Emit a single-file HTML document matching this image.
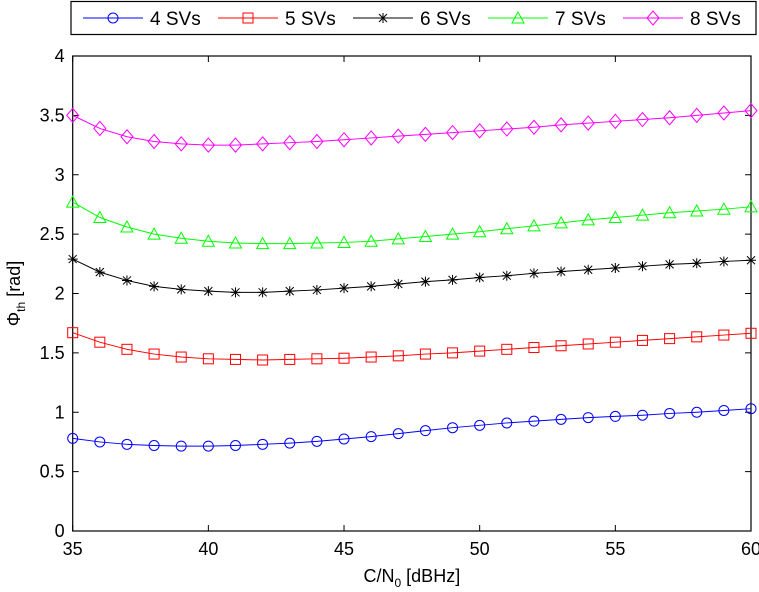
<!DOCTYPE html>
<html><head><meta charset="utf-8"><style>
body{margin:0;background:#fff}
svg{display:block;font-family:"Liberation Sans",Arial,sans-serif}
</style></head><body>
<svg id="c" width="759" height="592"></svg>
<script>
const xs=[35,36,37,38,39,40,41,42,43,44,45,46,47,48,49,50,51,52,53,54,55,56,57,58,59,60];
const s4=[0.78,0.75,0.73,0.72,0.715,0.715,0.72,0.73,0.74,0.755,0.775,0.795,0.82,0.845,0.87,0.89,0.91,0.925,0.94,0.955,0.965,0.975,0.99,1.0,1.015,1.03];
const s5=[1.67,1.59,1.53,1.49,1.465,1.45,1.445,1.44,1.445,1.45,1.455,1.465,1.475,1.49,1.5,1.515,1.53,1.545,1.56,1.575,1.59,1.605,1.62,1.635,1.65,1.665];
const s6=[2.29,2.18,2.11,2.06,2.035,2.02,2.01,2.01,2.02,2.03,2.045,2.06,2.08,2.10,2.115,2.135,2.15,2.17,2.185,2.2,2.215,2.23,2.245,2.255,2.27,2.28];
const s7=[2.77,2.64,2.56,2.5,2.465,2.44,2.425,2.42,2.42,2.425,2.43,2.44,2.46,2.48,2.5,2.52,2.545,2.57,2.595,2.62,2.64,2.66,2.68,2.695,2.71,2.73];
const s8=[3.5,3.39,3.32,3.28,3.26,3.25,3.25,3.26,3.27,3.28,3.295,3.31,3.325,3.34,3.355,3.37,3.385,3.40,3.42,3.435,3.45,3.465,3.48,3.5,3.52,3.54];
const xTicks=[35,40,45,50,55,60];
const yTicks=[0,0.5,1,1.5,2,2.5,3,3.5,4];
const names=["4 SVs","5 SVs","6 SVs","7 SVs","8 SVs"];
const series=[s4,s5,s6,s7,s8];
const colors=["#0000ff","#ff0000","#000000","#00ff00","#ff00ff"];
const marks=["circle","square","star","tri","diamond"];

const L=72.7,R=751,T=56,B=531;
const X=v=>L+(v-35)/25*(R-L);
const Y=v=>B-v/4*(B-T);
const svg=document.getElementById('c');
const NS="http://www.w3.org/2000/svg";
function mk(t,a,p){const e=document.createElementNS(NS,t);for(const k in a)e.setAttribute(k,a[k]);(p||svg).appendChild(e);return e;}
function marker(type,x,y,c,g){
  let e;
  if(type=="circle")e=mk('circle',{cx:x,cy:y,r:5,fill:'none',stroke:c},g);
  else if(type=="square")e=mk('rect',{x:x-5,y:y-5,width:10,height:10,fill:'none',stroke:c},g);
  else if(type=="tri")e=mk('polygon',{points:`${x},${y-6} ${x-6},${y+5} ${x+6},${y+5}`,fill:'none',stroke:c},g);
  else if(type=="diamond")e=mk('polygon',{points:`${x},${y-7} ${x+6},${y} ${x},${y+7} ${x-6},${y}`,fill:'none',stroke:c},g);
  else e=mk('path',{d:`M${x-5},${y}H${x+5}M${x},${y-5}V${y+5}M${x-4},${y-4}L${x+4},${y+4}M${x-4},${y+4}L${x+4},${y-4}`,stroke:c,fill:'none'},g);
  
  
}
// axes box
const box=mk('rect',{x:L,y:T,width:R-L,height:B-T,fill:'none',stroke:'#000','stroke-width':1.2});


xTicks.forEach(v=>{
  const x=X(v);
  mk('line',{x1:x,x2:x,y1:B,y2:B-6,stroke:'#000'});
  mk('line',{x1:x,x2:x,y1:T,y2:T+6,stroke:'#000'});
  const t=mk('text',{x:x,y:B+24,'text-anchor':'middle','font-size':18});t.textContent=v;
  
  
});
yTicks.forEach(v=>{
  const y=Y(v);
  mk('line',{x1:L,x2:L+6,y1:y,y2:y,stroke:'#000'});
  mk('line',{x1:R,x2:R-6,y1:y,y2:y,stroke:'#000'});
  const t=mk('text',{x:L-8,y:y+6,'text-anchor':'end','font-size':18});t.textContent=v;
  
  
});
series.forEach((s,i)=>{
  const g=mk('g',{});
  
  
  mk('polyline',{points:s.map((v,j)=>X(xs[j])+','+Y(v)).join(' '),fill:'none',stroke:colors[i],'stroke-width':1},g);
  s.forEach((v,j)=>marker(marks[i],X(xs[j]),Y(v),colors[i],g));
});
// labels
const xl=mk('text',{x:(L+R)/2,y:582,'text-anchor':'middle','font-size':18});
xl.innerHTML='C/N<tspan font-size="12" dy="5">0</tspan><tspan dy="-5"> [dBHz]</tspan>';


const yl=mk('text',{x:0,y:0,'text-anchor':'middle','font-size':18,transform:`translate(20,${(T+B)/2}) rotate(-90)`});
yl.innerHTML='Φ<tspan font-size="12" dy="5">th</tspan><tspan dy="-5"> [rad]</tspan>';


// legend
const lg=mk('g',{});


mk('rect',{x:71,y:1.5,width:685,height:33,fill:'#fff',stroke:'#000','stroke-width':1.2},lg);
const lx=[83,218,353,488,623];
names.forEach((n,i)=>{
  const x0=lx[i];
  mk('line',{x1:x0,x2:x0+60,y1:18,y2:18,stroke:colors[i]},lg);
  marker(marks[i],x0+30,18,colors[i],lg);
  const t=mk('text',{x:x0+67,y:25,'font-size':19},lg);t.textContent=n;
  
  
});
</script>
</body></html>
